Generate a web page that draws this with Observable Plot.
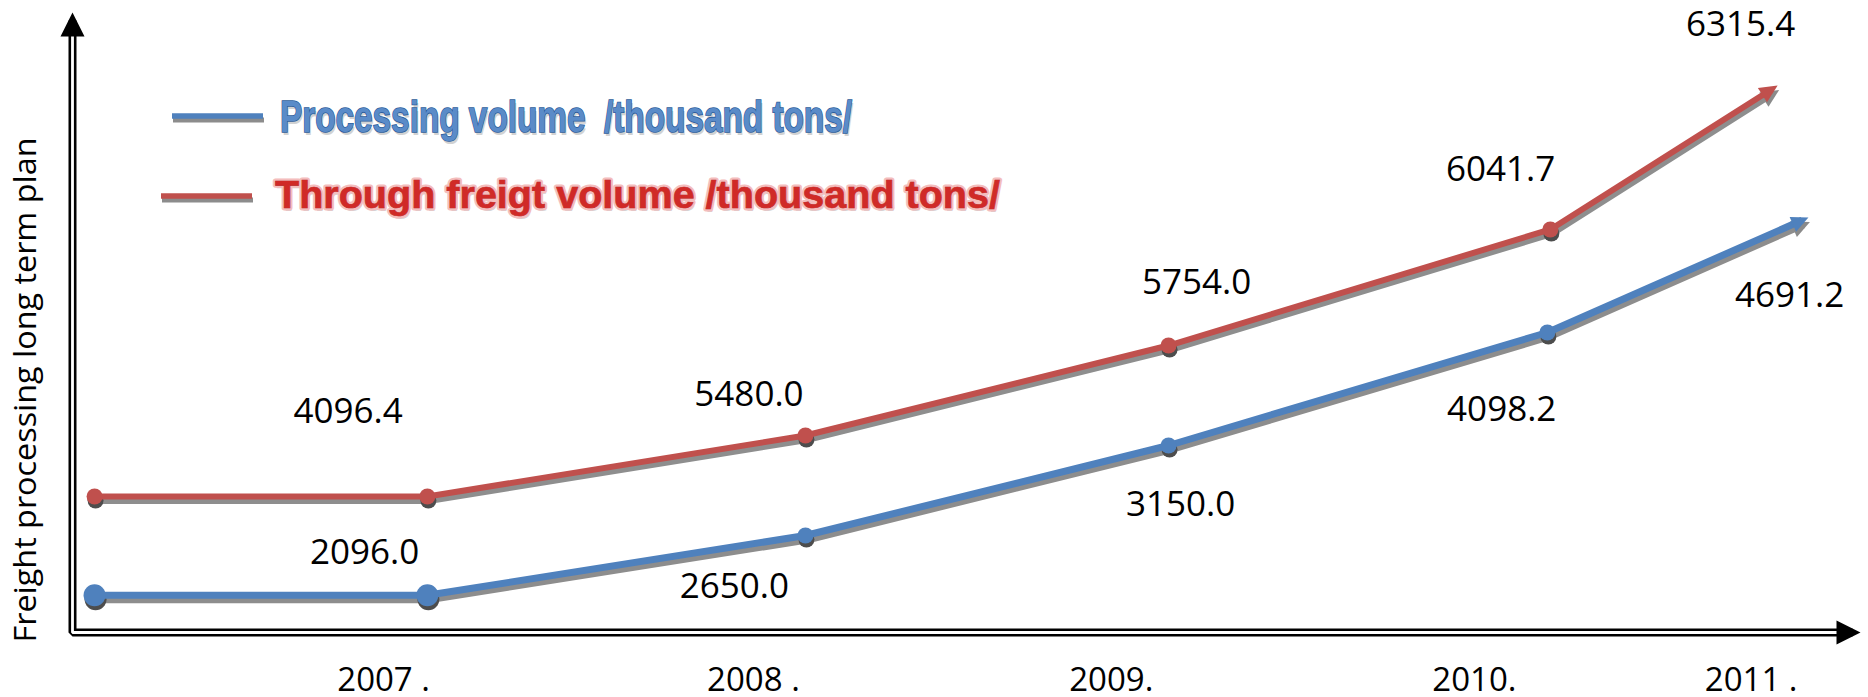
<!DOCTYPE html>
<html><head><meta charset="utf-8">
<script src="https://cdn.jsdelivr.net/npm/d3@7"></script>
<script src="https://cdn.jsdelivr.net/npm/@observablehq/plot@0.6"></script>
<style>
html,body{margin:0;padding:0;background:#fff;overflow:hidden}
#wrap{position:relative;width:1868px;height:697px}
#legend{position:absolute;left:0;top:0;pointer-events:none}
</style></head><body>
<div id="wrap"></div>
<script>
// ---------- data ----------
const years = [2007, 2008, 2009, 2010, 2011];
const tickLabels = ["2007 .", "2008 .", "2009.", "2010.", "2011 ."];
const tickX = [2006.882, 2007.871, 2008.828, 2009.799, 2010.539];

const seriesNames = ["Processing volume  /thousand tons/", "Through freigt volume /thousand tons/"];
const yTitle = "Freight processing long term plan";

const processingValues = [2096.0, 2650.0, 3150.0, 4098.2, 4691.2];
const freightValues = [4096.4, 5480.0, 5754.0, 6041.7, 6315.4];

// drawn polyline of each series (x in year units, y in drawing-level units; last point = arrow end)
const processingX = [2006.109, 2006.999, 2008.010, 2008.981, 2009.994, 2010.675];
const processingLevel = [6.2, 6.2, 16.17, 31.17, 50.0, 68.7];
const freightX = [2006.109, 2006.999, 2008.010, 2008.981, 2010.002, 2010.594];
const freightLevel = [22.67, 22.67, 32.83, 47.83, 67.17, 90.55];

// value-label anchors
const processingLabelX = [2006.831, 2007.820, 2009.013, 2009.872, 2010.642];
const processingLabelLevel = [11.5, 5.83, 19.5, 35.33, 54.17];
const freightLabelX = [2006.787, 2007.859, 2009.056, 2009.869, 2010.511];
const freightLabelLevel = [35.0, 37.83, 56.5, 75.33, 99.5];

// ---------- build ----------
const X0 = 2006.05, X1 = 2010.81, Y0 = 0, Y1 = 102;
const BLUE = "#4F81BD", RED = "#C0504D";
const proc = processingX.map((x, i) => ({x, y: processingLevel[i]}));
const frt = freightX.map((x, i) => ({x, y: freightLevel[i]}));
const procLabels = processingValues.map((v, i) => ({x: processingLabelX[i], y: processingLabelLevel[i], t: v.toFixed(1)}));
const frtLabels = freightValues.map((v, i) => ({x: freightLabelX[i], y: freightLabelLevel[i], t: v.toFixed(1)}));
const ticks = tickLabels.map((t, i) => ({x: tickX[i], t}));
const axisPath = [[X0, Y1], [X0, Y0], [X1, Y0]];
const nPts = proc.length - 1;
const font = "Open Sans";

const chart = Plot.plot({
  width: 1868, height: 697,
  marginLeft: 72, marginRight: 16, marginTop: 20, marginBottom: 65,
  x: {domain: [X0, X1], axis: null},
  y: {domain: [Y0, Y1], axis: null},
  style: {background: "white", overflow: "visible"},
  marks: [
    Plot.line(axisPath, {stroke: "#000000", strokeWidth: 8, strokeLinecap: "butt", strokeLinejoin: "miter"}),
    Plot.line(axisPath, {stroke: "#ffffff", strokeWidth: 2.8, strokeLinecap: "butt", strokeLinejoin: "miter"}),
    // shadows
    Plot.line(frt, {x: "x", y: "y", stroke: "#8e8e8e", strokeWidth: 6, dx: 1.5, dy: 4.5, strokeLinecap: "butt"}),
    Plot.line(proc, {x: "x", y: "y", stroke: "#8d8d8d", strokeWidth: 7, dx: 1.5, dy: 4.5, strokeLinecap: "butt"}),
    Plot.dot(frt, {filter: (d, i) => i < nPts, x: "x", y: "y", r: 8, fill: "#4d4d4d", dx: 1, dy: 4}),
    Plot.dot(proc, {filter: (d, i) => i < 2, x: "x", y: "y", r: 11, fill: "#4d4d4d", dx: 1, dy: 4}),
    Plot.dot(proc, {filter: (d, i) => i >= 2 && i < nPts, x: "x", y: "y", r: 8, fill: "#4d4d4d", dx: 1, dy: 4}),
    // series
    Plot.line(frt, {x: "x", y: "y", stroke: RED, strokeWidth: 6, strokeLinecap: "butt"}),
    Plot.line(proc, {x: "x", y: "y", stroke: BLUE, strokeWidth: 7, strokeLinecap: "butt"}),
    Plot.dot(frt, {filter: (d, i) => i < nPts, x: "x", y: "y", r: 8, fill: RED}),
    Plot.dot(proc, {filter: (d, i) => i < 2, x: "x", y: "y", r: 11, fill: BLUE}),
    Plot.dot(proc, {filter: (d, i) => i >= 2 && i < nPts, x: "x", y: "y", r: 8, fill: BLUE}),
    // value labels
    Plot.text(frtLabels, {x: "x", y: "y", text: "t", fontFamily: font, fontSize: 35, fill: "#000", textAnchor: "middle", lineAnchor: "bottom"}),
    Plot.text(procLabels, {x: "x", y: "y", text: "t", fontFamily: font, fontSize: 35, fill: "#000", textAnchor: "middle", lineAnchor: "bottom"}),
    // x tick labels
    Plot.text(ticks, {x: "x", frameAnchor: "bottom", dy: 58, text: "t", fontFamily: font, fontSize: 33, fill: "#000", textAnchor: "middle", lineAnchor: "bottom"}),
    // y title
    Plot.text([yTitle], {frameAnchor: "left", text: d => d, rotate: -90, dx: -37, dy: 63.5, fontFamily: font, fontSize: 31.5, fill: "#000", textAnchor: "middle", lineAnchor: "bottom"})
  ]
});
document.getElementById("wrap").appendChild(chart);

// ---------- arrowheads (SVG markers on Plot-drawn paths) ----------
const svg = d3.select(chart);
const defs = svg.append("defs");
function head(id, color, tip, back, half, orient) {
  defs.append("marker").attr("id", id).attr("markerUnits", "userSpaceOnUse")
    .attr("viewBox", `${-back} ${-half} ${back + tip} ${2 * half}`)
    .attr("markerWidth", back + tip).attr("markerHeight", 2 * half)
    .attr("refX", 0).attr("refY", 0).attr("orient", orient || "auto")
    .style("overflow", "visible")
    .append("path").attr("d", `M${tip},0L${-back},${-half}L${-back},${half}Z`).attr("fill", color);
}
head("h-axis", "#000", 8, 16, 12, "auto-start-reverse");
head("h-red", RED, 7, 11, 8.5);
head("h-blue", BLUE, 7, 10, 8);
head("h-shadow", "#8a8a8a", 7, 11, 8.5);
function mark(stroke, attr, id) {
  svg.selectAll(`[stroke="${stroke}"]`).each(function () {
    const el = d3.select(this);
    (this.tagName.toLowerCase() === "path" ? el : el.selectAll("path")).attr(attr, `url(#${id})`);
  });
}
mark("#ffffff", "marker-start", "h-axis");
mark("#ffffff", "marker-end", "h-axis");
mark(RED, "marker-end", "h-red");
mark(BLUE, "marker-end", "h-blue");
mark("#8e8e8e", "marker-end", "h-shadow");
mark("#8d8d8d", "marker-end", "h-shadow");
svg.selectAll("text").filter(function () { return this.textContent === yTitle; })
  .attr("textLength", 505).attr("lengthAdjust", "spacingAndGlyphs");

// ---------- legend (overlay) ----------
const leg = d3.select("#wrap").append("svg").attr("id", "legend").attr("width", 1868).attr("height", 697);
const legendItems = [
  {name: seriesNames[0], color: BLUE, lx1: 172, lx2: 263, ly: 116, tx: 280, ty: 132, size: 44, len: 572, fill: "#5A8BC8", outline: "#2C5C9A", halo: null},
  {name: seriesNames[1], color: RED, lx1: 161, lx2: 252, ly: 196, tx: 275, ty: 208, size: 39, len: 725, fill: "#D02A27", outline: "#B01A1A", halo: "#F4BDBD"}
];
legendItems.forEach(it => {
  leg.append("line").attr("x1", it.lx1 + 1).attr("x2", it.lx2 + 1).attr("y1", it.ly + 4).attr("y2", it.ly + 4)
    .attr("stroke", "#8c8c8c").attr("stroke-width", 5);
  leg.append("line").attr("x1", it.lx1).attr("x2", it.lx2).attr("y1", it.ly).attr("y2", it.ly)
    .attr("stroke", it.color).attr("stroke-width", 5.5);
  const base = t => t.attr("x", it.tx).attr("y", it.ty).attr("font-family", "Liberation Sans, Arial, sans-serif")
    .attr("font-weight", "bold").attr("font-size", it.size).attr("textLength", it.len)
    .attr("lengthAdjust", "spacingAndGlyphs").style("white-space", "pre").text(it.name);
  base(leg.append("text")).attr("transform", "translate(1.5,3)").attr("fill", "#b5b5b5").attr("opacity", 0.6);
  if (it.halo) base(leg.append("text")).attr("fill", "none").attr("stroke", it.halo).attr("stroke-width", 5).attr("stroke-linejoin", "round");
  base(leg.append("text")).attr("fill", it.fill).attr("stroke", it.outline).attr("stroke-width", it.halo ? 0.6 : 1.6).attr("paint-order", "stroke");
});
</script>
</body></html>
